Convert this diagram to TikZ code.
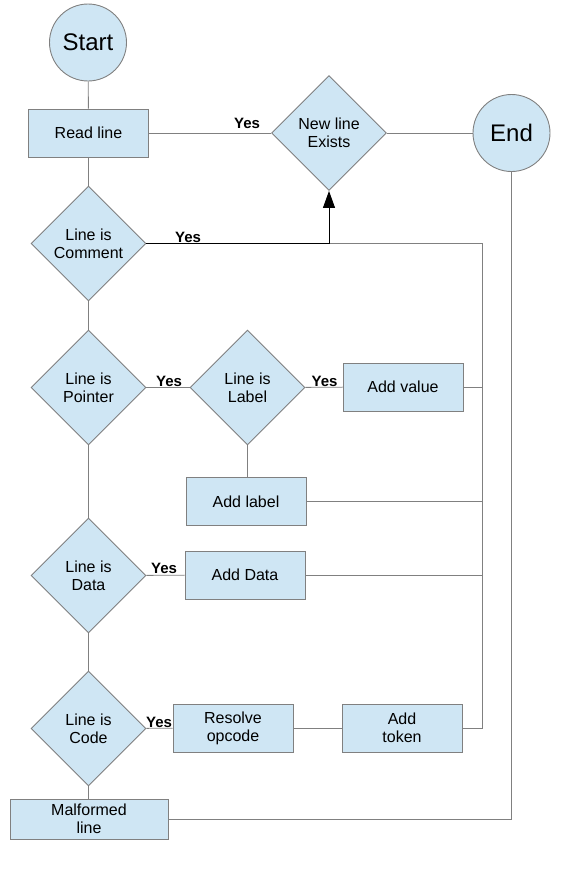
\documentclass[tikz,border=0pt]{standalone}
\usepackage{fontspec}
\setmainfont{Liberation Sans}
\usetikzlibrary{shapes.geometric,arrows.meta}
\definecolor{boxfill}{HTML}{CFE6F4}
\definecolor{edgegray}{HTML}{808080}
\begin{document}
\begin{tikzpicture}[x=1pt, y=-1pt, font=\fontsize{16}{18}\selectfont, % one unit per pixel, y pointing down
    box/.style={rectangle, draw=edgegray, fill=boxfill, line width=0.9pt, minimum width=120pt, minimum height=48pt, align=center, inner sep=0pt},
    decision/.style={diamond, draw=edgegray, fill=boxfill, line width=0.9pt, minimum width=115pt, minimum height=115pt, align=center, inner sep=0pt},
    terminal/.style={circle, draw=edgegray, fill=boxfill, line width=0.9pt, minimum size=77pt, inner sep=0pt, font=\fontsize{24}{28}\selectfont},
    line/.style={draw=edgegray, line width=0.9pt},
    yes/.style={font=\fontsize{15}{18}\selectfont\bfseries, inner sep=0pt}]
    \useasboundingbox (0,0) rectangle (563,870);
    % Draw start, end and the new line test
    \node[terminal] (start) at (88,42.5) {Start};
    \node[box] (read) at (88.5,133) {Read line};
    \node[decision] (newline) at (329,133) {New line\\Exists};
    \node[terminal] (stop) at (511.5,133) {End};
    % Draw the tests down the left side
    \node[decision] (comment) at (88.5,243.5) {Line is\\Comment};
    \node[decision] (pointer) at (88.5,387.5) {Line is\\Pointer};
    \node[decision] (data) at (88.5,575.5) {Line is\\Data};
    \node[decision] (code) at (88.5,728.5) {Line is\\Code};
    \node[box, minimum width=158pt, minimum height=40pt] (malformed) at (89,819) {Malformed\\line};
    % Draw the actions
    \node[decision] (islabel) at (247.5,387.5) {Line is\\Label};
    \node[box] (addvalue) at (403,387) {Add value};
    \node[box] (addlabel) at (246,501.5) {Add label};
    \node[box] (adddata) at (245,575) {Add Data};
    \node[box] (resolve) at (233,728) {Resolve\\opcode};
    \node[box] (addtoken) at (402,728) {Add\\token};
    \coordinate (bus) at (482.5,243.5); % top of the collecting line
    % Draw the main column
    \draw[line] (start) -- (read);
    \draw[line] (read) -- (comment);
    \draw[line] (comment) -- (pointer);
    \draw[line] (pointer) -- (data);
    \draw[line] (data) -- (code);
    \draw[line] (code.south) -- (code.south |- malformed.north);
    % Draw the branches
    \draw[line] (read) -- (newline);
    \draw[line] (newline) -- (stop);
    \draw[line] (pointer) -- (islabel);
    \draw[line] (islabel) -- (addvalue);
    \draw[line] (islabel.south) -- (islabel.south |- addlabel.north);
    \draw[line] (data) -- (adddata);
    \draw[line] (code) -- (resolve);
    \draw[line] (resolve) -- (addtoken);
    % Draw the way back to the new line test
    \draw[line] (newline |- bus) -- (bus) -- (bus |- addtoken) -- (addtoken);
    \draw[line] (addvalue) -- (bus |- addvalue);
    \draw[line] (addlabel) -- (bus |- addlabel);
    \draw[line] (adddata) -- (bus |- adddata);
    \draw[line width=0.9pt, -{Triangle[length=17pt,width=12pt]}] (comment.east) -- (newline |- comment.east) -- (newline.south);
    % Draw the way to the end
    \draw[line] (stop) -- (stop |- malformed) -- (malformed);
    % Draw the Yes labels
    \node[yes] (yesread) at (247,123) {Yes};
    \node[yes] (yescomment) at (188,237) {Yes};
    \node[yes] (yespointer) at (169,381) {Yes};
    \node[yes] (yeslabel) at (324.5,381) {Yes};
    \node[yes] (yesdata) at (164,568) {Yes};
    \node[yes] (yescode) at (159,722.5) {Yes};
\end{tikzpicture}
\end{document}
